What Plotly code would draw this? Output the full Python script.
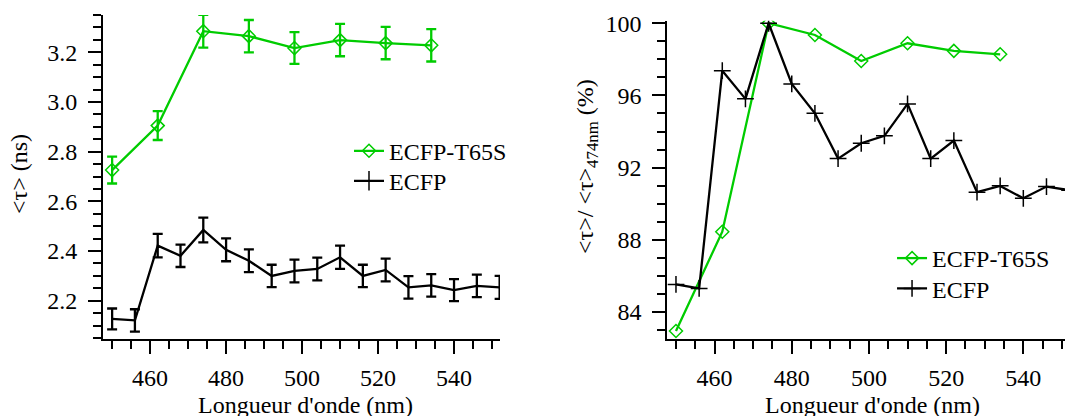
import plotly.graph_objects as go

# ---- data ----
wl_t65s = [450, 462, 474, 486, 498, 510, 522, 534]
tau_t65s = [2.726, 2.905, 3.285, 3.265, 3.217, 3.249, 3.237, 3.228]
err_t65s = [0.054, 0.058, 0.066, 0.065, 0.064, 0.065, 0.065, 0.065]
norm_t65s = [82.95, 88.45, 100.0, 99.35, 97.91, 98.89, 98.47, 98.28]

wl_ecfp = [450, 456, 462, 468, 474, 480, 486, 492, 498, 504, 510, 516, 522, 528, 534, 540, 546, 552]
tau_ecfp = [2.127, 2.121, 2.422, 2.381, 2.485, 2.405, 2.361, 2.300, 2.320, 2.328, 2.375, 2.300,
            2.324, 2.254, 2.262, 2.243, 2.260, 2.254]
err_ecfp = [0.042, 0.045, 0.047, 0.045, 0.050, 0.046, 0.046, 0.045, 0.046, 0.046, 0.047, 0.045,
            0.046, 0.045, 0.045, 0.044, 0.045, 0.046]
norm_ecfp = [85.53, 85.31, 97.37, 95.81, 100.0, 96.64, 95.01, 92.50, 93.35, 93.76, 95.53, 92.50,
             93.50, 90.64, 90.99, 90.30, 90.95, 90.75]

x_ticks = [460, 480, 500, 520, 540]
y_ticks_left = [2.2, 2.4, 2.6, 2.8, 3.0, 3.2]
y_ticks_left_text = ["2.2", "2.4", "2.6", "2.8", "3.0", "3.2"]
y_ticks_right = [84, 88, 92, 96, 100]

GREEN = "#00cc00"
BLACK = "#000000"
FONT = "Liberation Serif, Times New Roman, serif"
LW = 2.3

fig = go.Figure()

# left panel
fig.add_trace(go.Scatter(
    x=wl_t65s, y=tau_t65s, mode="lines+markers", name="ECFP-T65S",
    line=dict(color=GREEN, width=LW),
    marker=dict(symbol="diamond-open", size=10, color=GREEN, line=dict(width=1.5, color=GREEN)),
    error_y=dict(type="data", array=err_t65s, color=GREEN, thickness=LW, width=5),
    xaxis="x", yaxis="y", legend="legend"))
fig.add_trace(go.Scatter(
    x=wl_ecfp, y=tau_ecfp, mode="lines", name="ECFP",
    line=dict(color=BLACK, width=LW),
    error_y=dict(type="data", array=err_ecfp, color=BLACK, thickness=LW, width=5),
    xaxis="x", yaxis="y", showlegend=False))
fig.add_trace(go.Scatter(
    x=[None], y=[None], mode="lines+markers", name="ECFP",
    line=dict(color=BLACK, width=LW),
    marker=dict(symbol="cross-thin", size=14, color=BLACK, line=dict(width=1.5, color=BLACK)),
    xaxis="x", yaxis="y", legend="legend3"))

# right panel
fig.add_trace(go.Scatter(
    x=wl_t65s, y=norm_t65s, mode="lines+markers", name="ECFP-T65S",
    line=dict(color=GREEN, width=LW),
    marker=dict(symbol="diamond-open", size=10, color=GREEN, line=dict(width=1.5, color=GREEN)),
    xaxis="x2", yaxis="y2", legend="legend2"))
fig.add_trace(go.Scatter(
    x=wl_ecfp, y=norm_ecfp, mode="lines+markers", name="ECFP",
    line=dict(color=BLACK, width=LW),
    marker=dict(symbol="cross-thin", size=12, color=BLACK, line=dict(width=1.5, color=BLACK)),
    xaxis="x2", yaxis="y2", legend="legend4"))

axis_common = dict(
    showline=True, linecolor="black", linewidth=2, showgrid=False, zeroline=False,
    automargin=False,
    ticks="outside", ticklen=13, tickwidth=2, tickcolor="black",
    tickfont=dict(family=FONT, size=24, color="black"),
)

def leg(x, y):
    return dict(x=x, y=y, xanchor="left", yanchor="top", bgcolor="rgba(0,0,0,0)",
                font=dict(family=FONT, size=24, color="black"))

fig.update_layout(
    template="none",
    width=1065, height=416,
    margin=dict(l=0, r=0, t=0, b=0, pad=0),
    paper_bgcolor="white", plot_bgcolor="white",
    font=dict(family=FONT, size=24, color="black"),
    xaxis=dict(domain=[103/1065, 500/1065], range=[447.6, 552.1], anchor="y",
               tickvals=x_ticks, ticklabelstandoff=3,
               minor=dict(dtick=5, tick0=450, ticks="outside", ticklen=8, tickwidth=2, tickcolor="black"),
               **axis_common),
    yaxis=dict(domain=[0.1844, 0.9639], range=[2.045, 3.350], anchor="x",
               tickvals=y_ticks_left, ticktext=y_ticks_left_text,
               ticklabelstandoff=6,
               minor=dict(dtick=0.05, tick0=2.0, ticks="outside", ticklen=8, tickwidth=2, tickcolor="black"),
               **axis_common),
    xaxis2=dict(domain=[667.3/1065, 1.0], range=[447.75, 550.8], anchor="y2",
                tickvals=x_ticks, ticklabelstandoff=3,
                minor=dict(dtick=5, tick0=450, ticks="outside", ticklen=8, tickwidth=2, tickcolor="black"),
                **axis_common),
    yaxis2=dict(domain=[0.184, 0.9502], range=[82.48, 100.14], anchor="x2",
                tickvals=y_ticks_right, ticklabelstandoff=6,
                minor=dict(dtick=1, tick0=80, ticks="outside", ticklen=8, tickwidth=2, tickcolor="black"),
                **axis_common),
    legend=leg(0.3277, 0.6906),
    legend3=leg(0.3277, 0.6185),
    legend2=leg(0.8376, 0.4327),
    legend4=leg(0.8376, 0.3599),
    annotations=[
        dict(text="Longueur d'onde (nm)", x=305/1065, y=(416-405)/416, xref="paper", yref="paper",
             showarrow=False, xanchor="center", yanchor="middle", font=dict(family=FONT, size=24)),
        dict(text="Longueur d'onde (nm)", x=872/1065, y=(416-405)/416, xref="paper", yref="paper",
             showarrow=False, xanchor="center", yanchor="middle", font=dict(family=FONT, size=24)),
        dict(text="&lt;τ&gt; (ns)", x=19/1065, y=(416-174)/416, xref="paper", yref="paper",
             showarrow=False, xanchor="center", yanchor="middle", textangle=-90,
             font=dict(family=FONT, size=24)),
        dict(text="&lt;τ&gt;/ &lt;τ&gt;<sub>474nm</sub> (%)", x=587/1065, y=(416-167)/416,
             xref="paper", yref="paper", showarrow=False, xanchor="center", yanchor="middle",
             textangle=-90, font=dict(family=FONT, size=24)),
    ],
)

fig.write_html("out.html", config={"displayModeBar": False},
               post_script="document.body.style.margin='0';document.body.style.overflow='hidden';")
